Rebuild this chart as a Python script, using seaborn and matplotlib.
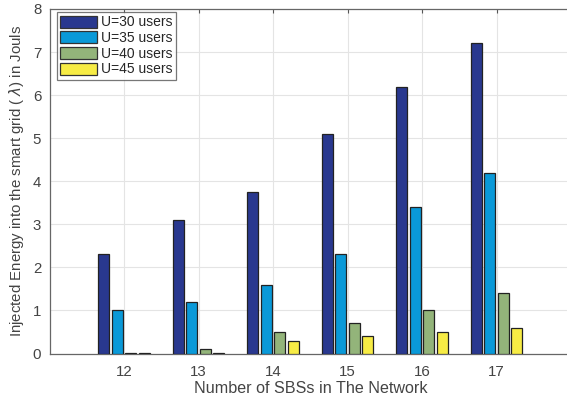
import matplotlib
matplotlib.use("Agg")
import matplotlib.pyplot as plt
import seaborn as sns
import pandas as pd

# Injected energy per number of small base stations, one series per user count
sbs_counts = [12, 13, 14, 15, 16, 17]
series_labels = ["U=30 users", "U=35 users", "U=40 users", "U=45 users"]
u30 = [2.3, 3.1, 3.75, 5.1, 6.2, 7.2]
u35 = [1.0, 1.2, 1.6, 2.3, 3.4, 4.2]
u40 = [0.02, 0.1, 0.5, 0.7, 1.0, 1.4]
u45 = [0.01, 0.01, 0.3, 0.4, 0.5, 0.6]
y_ticks = [0, 1, 2, 3, 4, 5, 6, 7, 8]

colors = ["#29388f", "#0a99d8", "#93b47a", "#f7ec45"]

rows = []
for label, vals in zip(series_labels, [u30, u35, u40, u45]):
    for n, v in zip(sbs_counts, vals):
        rows.append({"SBS": str(n), "Energy": v, "Users": label})
df = pd.DataFrame(rows)

sns.set_style("white")
plt.rcParams["font.family"] = ["Liberation Sans", "DejaVu Sans"]

W, H = 567, 398
ax_left, ax_right, ax_top, ax_bottom = 49.5, 571, 9, 353.5
ax_w, ax_h = ax_right - ax_left, ax_bottom - ax_top

fig = plt.figure(figsize=(W / 100, H / 100), dpi=100)
ax = fig.add_axes([ax_left / W, (H - ax_bottom) / H, ax_w / W, ax_h / H])

sns.barplot(data=df, x="SBS", y="Energy", hue="Users", hue_order=series_labels,
            palette=colors, width=0.72, gap=0.17, edgecolor="#222222",
            linewidth=0.9, saturation=1, errorbar=None, ax=ax, zorder=3)

ax.set_xlim(-1, 6)
ax.set_ylim(0, 8)
ax.set_yticks(y_ticks)
ax.grid(True, color="#e4e4e4", linewidth=0.8, zorder=0)
ax.set_axisbelow(True)

for s in ax.spines.values():
    s.set_color("#666666")
    s.set_linewidth(0.9)

ax.tick_params(axis="both", direction="in", length=3, width=0.8, color="#555555",
               top=True, right=True, labelsize=10.8, labelcolor="#444444")
ax.tick_params(axis="x", pad=8)
ax.tick_params(axis="y", pad=6)

ax.set_xlabel("Number of SBSs in The Network", fontsize=11.6, color="#444444", labelpad=2)
ax.set_ylabel("Injected Energy into the smart grid ( $\\lambda$) in Jouls",
              fontsize=10.8, color="#444444", labelpad=5)

leg = ax.legend(loc="upper left", bbox_to_anchor=(7.5 / ax_w, 1 - 3 / ax_h),
                borderaxespad=0, fontsize=10, frameon=True, fancybox=False,
                edgecolor="#555555", handlelength=2.6, handleheight=0.95,
                handletextpad=0.3, labelspacing=0.12, borderpad=0.25, title=None)
leg.get_frame().set_linewidth(0.9)
for h in leg.legend_handles:
    h.set_edgecolor("#333333")

fig.savefig("out.png", dpi=100)
